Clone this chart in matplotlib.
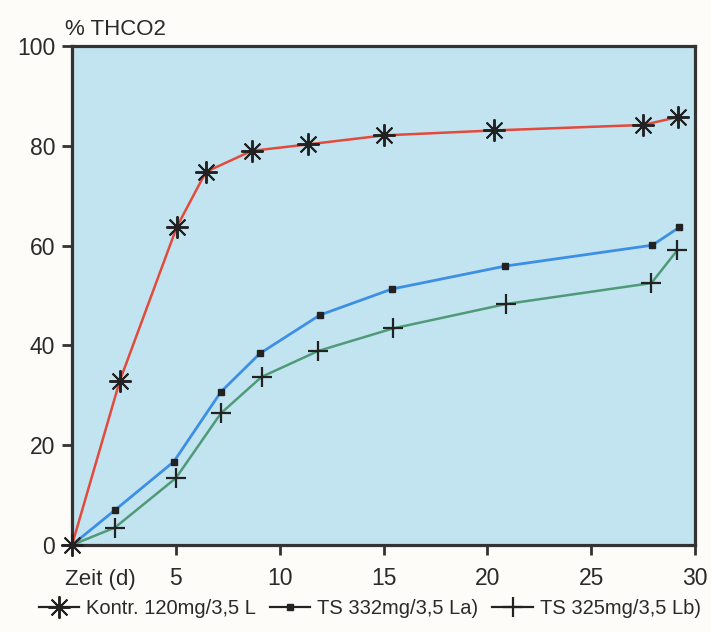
import numpy as np
import matplotlib
matplotlib.use('Agg')
import matplotlib.pyplot as plt

plt.rcParams['font.family'] = ['Liberation Sans', 'DejaVu Sans']

# Kontr. 120 mg/3,5 L
x_kontr = [0, 2.3, 5.05, 6.45, 8.65, 11.35, 15.0, 20.3, 27.5, 29.2]
y_kontr = [0, 32.9, 63.8, 74.8, 79.0, 80.3, 82.1, 83.1, 84.2, 85.8]

# TS 332 mg/3,5 L a)
x_ts332 = [0, 2.07, 4.9, 7.17, 9.05, 11.94, 15.4, 20.85, 27.95, 29.25]
y_ts332 = [0, 7.0, 16.7, 30.7, 38.4, 46.1, 51.3, 55.9, 60.1, 63.7]

# TS 325 mg/3,5 L b)
x_ts325 = [0, 2.07, 5.0, 7.17, 9.13, 11.86, 15.45, 20.9, 27.9, 29.15]
y_ts325 = [0, 3.5, 13.4, 26.4, 33.7, 38.9, 43.4, 48.3, 52.5, 59.1]

xticks = [5, 10, 15, 20, 25, 30]
yticks = [0, 20, 40, 60, 80, 100]

fig = plt.figure(figsize=(7.11, 6.32), dpi=100)
fig.patch.set_facecolor('#fdfcf8')
ax = fig.add_axes([0.1013, 0.1377, 0.8762, 0.7893])
ax.set_facecolor('#c2e4f0')

ax.plot(x_kontr, y_kontr, color='#e24a3c', lw=1.8, marker=(8, 2, 0), ms=16,
        mec='#222222', mfc='#222222', mew=1.4, label='Kontr. 120mg/3,5 L',
        zorder=4, clip_on=False)
ax.plot(x_ts332, y_ts332, color='#3d8fe6', lw=2.0, marker='s', ms=5,
        mec='#222222', mfc='#222222', label='TS 332mg/3,5 La)', zorder=3)
ax.plot(x_ts325, y_ts325, color='#4f9a78', lw=1.8, marker='+', ms=15,
        mec='#222222', mew=1.6, label='TS 325mg/3,5 Lb)', zorder=3)

ax.set_xlim(0, 30)
ax.set_ylim(0, 100)
ax.set_xticks(xticks)
ax.set_yticks(yticks)
ax.tick_params(direction='out', length=7, width=2, color='#333333',
               labelsize=16.5, labelcolor='#2a2a2a', pad=5)
ax.tick_params(axis='x', pad=9)
for s in ax.spines.values():
    s.set_linewidth(2.3)
    s.set_color('#333333')

fig.text(0.092, 0.954, '% THCO2', fontsize=16, color='#2a2a2a', va='center')
fig.text(0.092, 0.083, 'Zeit (d)', fontsize=16, color='#2a2a2a', va='center')

leg = fig.legend(loc='center', bbox_to_anchor=(0.52, 0.037), ncol=3, frameon=False,
                 fontsize=14.5, handlelength=2.0, handletextpad=0.35, columnspacing=0.7,
                 labelcolor='#2a2a2a')
for h in leg.legend_handles:
    h.set_color('#222222')
    h.set_linewidth(1.6)

fig.savefig('out.png', dpi=100, facecolor=fig.get_facecolor())
